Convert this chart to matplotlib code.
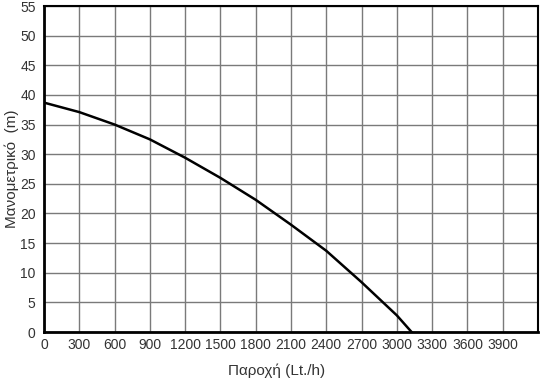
import matplotlib
matplotlib.use("Agg")
import matplotlib.pyplot as plt

plt.rcParams['font.family'] = ['Liberation Sans', 'DejaVu Sans']

# pump curve
flow = [0, 300, 600, 900, 1200, 1500, 1800, 2100, 2400, 2700, 3000, 3125]
head = [38.7, 37.1, 35.0, 32.5, 29.4, 26.0, 22.3, 18.1, 13.7, 8.4, 2.8, 0]

xticks = list(range(0, 3901, 300))
yticks = list(range(0, 56, 5))

fig = plt.figure(figsize=(5.4, 3.8), dpi=100)
ax = fig.add_axes([44/540, 1-332/380, (538-44)/540, (332-6)/380])

ax.plot(flow, head, color='black', lw=1.8, solid_joinstyle='round')

ax.set_xlim(0, 4200)
ax.set_ylim(0, 55)
ax.set_xticks(xticks)
ax.set_xticks(list(range(0, 4201, 300)), minor=True)
ax.set_yticks(yticks)
ax.grid(True, which='both', color='#7a7a7a', lw=1)
ax.set_axisbelow(True)
ax.tick_params(length=0, labelsize=10, colors='#333333')
ax.tick_params(axis='x', pad=4)
ax.tick_params(axis='y', pad=6)
ax.tick_params(which='minor', length=0)

for s in ['left', 'bottom']:
    ax.spines[s].set_linewidth(2)
for s in ['top', 'right']:
    ax.spines[s].set_linewidth(1.5)

ax.set_xlabel('Παροχή (Lt./h)', fontsize=11, color='#333333')
ax.xaxis.set_label_coords((277-44)/494, -(364-332)/326)
ax.set_ylabel('Μανομετρικό  (m)', fontsize=11, color='#333333')
ax.yaxis.set_label_coords(-(44-19)/494, 0.5)

fig.savefig('out.png', dpi=100)
